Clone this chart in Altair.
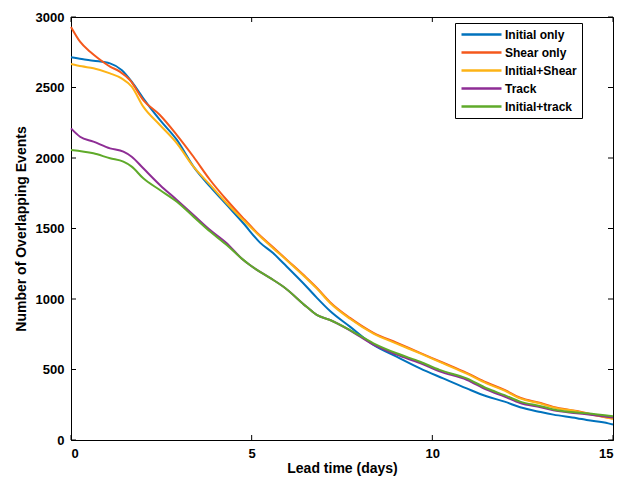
import altair as alt
import pandas as pd

series_names = ["Initial only", "Shear only", "Initial+Shear", "Track", "Initial+track"]
series_colors = ["#0072BD", "#F4581C", "#FDB316", "#8E2D95", "#5FAA2A"]

initial_days = [0, 0.3, 0.62, 1.08, 1.4, 1.68, 2.0, 2.46, 2.93, 3.39, 3.85, 4.31, 4.77, 5.23, 5.6, 5.88,
                6.52, 6.8, 7.17, 7.72, 8.37, 9.01, 9.66, 10.3, 10.95, 11.5, 12.0, 12.43, 13.0, 13.35,
                14.0, 14.27, 14.87, 15.0]
initial_vals = [2715, 2702, 2690, 2671, 2624, 2541, 2423, 2270, 2128, 1939, 1797, 1667, 1537, 1400, 1324, 1253,
                1087, 1010, 915, 804, 674, 591, 508, 437, 366, 310, 272, 232, 198, 180,
                155, 142, 118, 110]

shear_days = [0, 0.25, 0.53, 0.75, 1.08, 1.35, 1.63, 2.0, 2.46, 2.93, 3.39, 3.85, 4.31, 4.77, 5.23, 5.6,
              6.0, 6.52, 6.8, 7.17, 7.72, 8.37, 9.01, 9.66, 10.3, 10.95, 11.5, 12.0, 12.43, 13.0, 13.35,
              14.0, 14.27, 15.0]
shear_vals = [2929, 2825, 2753, 2707, 2648, 2613, 2553, 2411, 2305, 2163, 2009, 1844, 1702, 1572, 1450, 1365,
              1272, 1150, 1080, 978, 866, 760, 690, 618, 548, 476, 408, 355, 300, 262, 235,
              205, 190, 152]

init_shear_days = [0, 0.3, 0.62, 1.08, 1.4, 1.68, 2.0, 2.46, 2.93, 3.39, 3.85, 4.31, 4.77, 5.23, 5.6,
                   6.0, 6.52, 6.8, 7.17, 7.72, 8.37, 9.01, 9.66, 10.3, 10.95, 11.5, 12.0, 12.43, 13.0, 13.35,
                   14.0, 14.27, 15.0]
init_shear_vals = [2667, 2650, 2636, 2600, 2565, 2506, 2364, 2234, 2104, 1938, 1809, 1679, 1560, 1445, 1359,
                   1268, 1145, 1075, 972, 860, 755, 684, 614, 543, 471, 402, 350, 295, 258, 230,
                   203, 188, 150]

track_days = [0, 0.25, 0.62, 1.08, 1.45, 1.68, 2.0, 2.46, 2.93, 3.39, 3.85, 4.31, 4.72, 4.95, 5.6, 5.88,
              6.52, 6.8, 7.17, 7.72, 8.37, 9.01, 9.66, 10.2, 10.95, 11.5, 12.0, 12.43, 13.0, 13.35,
              14.0, 14.27, 15.0]
track_vals = [2210, 2151, 2116, 2068, 2045, 2009, 1927, 1809, 1702, 1596, 1489, 1395, 1288, 1241, 1135, 1087,
              945, 887, 851, 778, 676, 605, 545, 487, 427, 357, 308, 262, 232, 210,
              190, 182, 160]

init_track_days = [0, 0.62, 1.08, 1.45, 1.68, 2.0, 2.46, 2.93, 3.39, 3.85, 4.31, 4.72, 4.95, 5.6, 5.88,
                   6.52, 6.8, 7.17, 7.72, 8.37, 9.01, 9.66, 10.2, 10.95, 11.5, 12.0, 12.43, 13.0, 13.35,
                   14.0, 14.27, 15.0]
init_track_vals = [2057, 2033, 1998, 1974, 1939, 1856, 1773, 1690, 1584, 1478, 1383, 1288, 1241, 1135, 1087,
                   945, 887, 851, 780, 686, 615, 555, 497, 437, 367, 318, 272, 240, 217,
                   195, 189, 168]

x_ticks = [0, 5, 10, 15]
y_ticks = [0, 500, 1000, 1500, 2000, 2500, 3000]

rows = []
for name, days, vals in zip(series_names,
                            [initial_days, shear_days, init_shear_days, track_days, init_track_days],
                            [initial_vals, shear_vals, init_shear_vals, track_vals, init_track_vals]):
    for i, (d, v) in enumerate(zip(days, vals)):
        rows.append({"series": name, "day": d, "count": v, "idx": i})
df = pd.DataFrame(rows)

W, H = 542, 423
FONT = "Liberation Sans"

xscale = alt.Scale(domain=[0, 15], nice=False)
yscale = alt.Scale(domain=[0, 3000], nice=False)

lines = alt.Chart(df).mark_line(strokeWidth=2, interpolate="monotone").encode(
    x=alt.X("day:Q", scale=xscale, title="Lead time (days)",
            axis=alt.Axis(values=x_ticks, ticks=False, grid=False, labelPadding=7,
                          titlePadding=1, format="d")),
    y=alt.Y("count:Q", scale=yscale, title="Number of Overlapping Events",
            axis=alt.Axis(values=y_ticks, ticks=False, grid=False, labelPadding=7,
                          titlePadding=7, format="d")),
    color=alt.Color("series:N",
                    scale=alt.Scale(domain=series_names, range=series_colors),
                    sort=series_names,
                    legend=alt.Legend(title=None, orient="none", legendX=384, legendY=6,
                                      symbolType="M-1,0H7", symbolSize=100, symbolStrokeWidth=2.5,
                                      labelOffset=32, rowPadding=5, padding=5,
                                      strokeColor="#000", fillColor="#fff",
                                      labelFontSize=12, labelFontWeight="bold", labelFont=FONT,
                                      labelColor="#000")),
    order="idx:Q",
)

xt = pd.DataFrame({"v": x_ticks})
yt = pd.DataFrame({"v": y_ticks})
tick_color = "#000"
bottom_ticks = alt.Chart(xt).mark_rule(color=tick_color).encode(
    x=alt.X("v:Q", scale=xscale), y=alt.value(H), y2=alt.value(H - 5))
top_ticks = alt.Chart(xt).mark_rule(color=tick_color).encode(
    x=alt.X("v:Q", scale=xscale), y=alt.value(0), y2=alt.value(5))
left_ticks = alt.Chart(yt).mark_rule(color=tick_color).encode(
    y=alt.Y("v:Q", scale=yscale), x=alt.value(0), x2=alt.value(5))
right_ticks = alt.Chart(yt).mark_rule(color=tick_color).encode(
    y=alt.Y("v:Q", scale=yscale), x=alt.value(W - 5), x2=alt.value(W))

chart = alt.layer(lines, bottom_ticks, top_ticks, left_ticks, right_ticks).properties(
    width=W, height=H,
    autosize=alt.AutoSizeParams(type="none"),
    padding={"left": 63, "top": 9, "right": 7, "bottom": 36},
).configure_view(
    stroke="#000", strokeWidth=1
).configure_axis(
    domainColor="#000", labelColor="#000", titleColor="#000",
    labelFont=FONT, titleFont=FONT, labelFontSize=13, titleFontSize=14,
    labelFontWeight="bold", titleFontWeight="bold"
)

chart.save("out.html", embed_options={"renderer": "svg", "actions": False})
